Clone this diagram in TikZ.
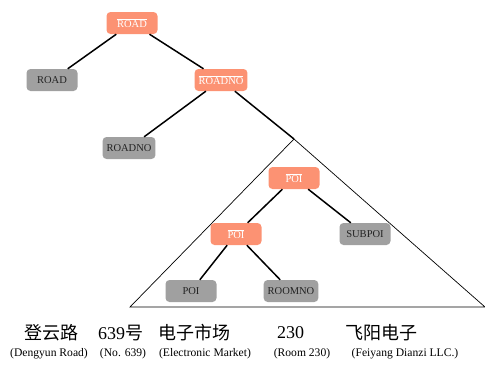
\documentclass[tikz,border=0pt]{standalone}
\usepackage{fontspec}
\setmainfont{Liberation Serif}
\newfontfamily\cjk{Noto Sans CJK SC}
\definecolor{salmon}{RGB}{252,146,115}
\definecolor{nodegray}{RGB}{160,160,160}
\definecolor{darktext}{RGB}{35,35,35}
\begin{document}
\begin{tikzpicture}[x=1pt,y=-1pt,
  base/.style={rounded corners=4pt, minimum width=51pt, minimum height=22pt, inner xsep=4pt, inner ysep=0pt, font=\fontsize{10.5}{12}\selectfont},
  barnode/.style={base, fill=salmon, text=white},
  leafnode/.style={base, fill=nodegray, text=darktext},
  edge/.style={line width=1.5pt, black},
  tri/.style={line width=0.7pt, black},
  zh/.style={font=\cjk\fontsize{18}{20}\selectfont, inner sep=0pt},
  en/.style={font=\fontsize{11.6}{13}\selectfont, inner sep=0pt}]
\useasboundingbox (0,0) rectangle (485,367);
% triangle
\coordinate (apex) at (294,139);
\coordinate (bl) at (130,307);
\coordinate (br) at (485,307);
\draw[tri] (bl) -- (apex) -- (br) -- cycle;
% nodes
\node[barnode] (roadbar) at (132,23) {$\overline{\hbox{ROAD}}$};
\node[leafnode] (road) at (52,80) {ROAD};
\node[barnode] (roadnobar) at (221,80) {$\overline{\hbox{ROADNO}}$};
\node[leafnode] (roadno) at (129,148) {ROADNO};
\node[barnode] (poibara) at (294,178) {$\overline{\hbox{POI}}$};
\node[barnode] (poibarb) at (236,234) {$\overline{\hbox{POI}}$};
\node[leafnode] (subpoi) at (365,234) {SUBPOI};
\node[leafnode] (poi) at (191,291) {POI};
\node[leafnode] (roomno) at (291,291) {ROOMNO};
% edges
\draw[edge] (roadbar) -- (road);
\draw[edge] (roadbar) -- (roadnobar);
\draw[edge] (roadnobar) -- (roadno);
\draw[edge] (roadnobar) -- (apex);
\draw[edge] (poibara) -- (poibarb);
\draw[edge] (poibara) -- (subpoi);
\draw[edge] (poibarb) -- (poi);
\draw[edge] (poibarb) -- (roomno);
% bottom text
\node[zh] (w1) at (51.5,333) {登云路};
\node[zh] (w2) at (120.5,333) {{\fontspec{Liberation Serif}639}号};
\node[zh] (w3) at (194,333) {电子市场};
\node[zh] (w4) at (290.5,333) {\fontspec{Liberation Serif}230};
\node[zh] (w5) at (381,333) {飞阳电子};
\node[en] (e1) at (49,354) {(Dengyun Road)};
\node[en] (e2) at (123,354) {(No. 639)};
\node[en] (e3) at (205,354) {(Electronic Market)};
\node[en] (e4) at (302,354) {(Room 230)};
\node[en] (e5) at (405,354) {(Feiyang Dianzi LLC.)};
\end{tikzpicture}
\end{document}
